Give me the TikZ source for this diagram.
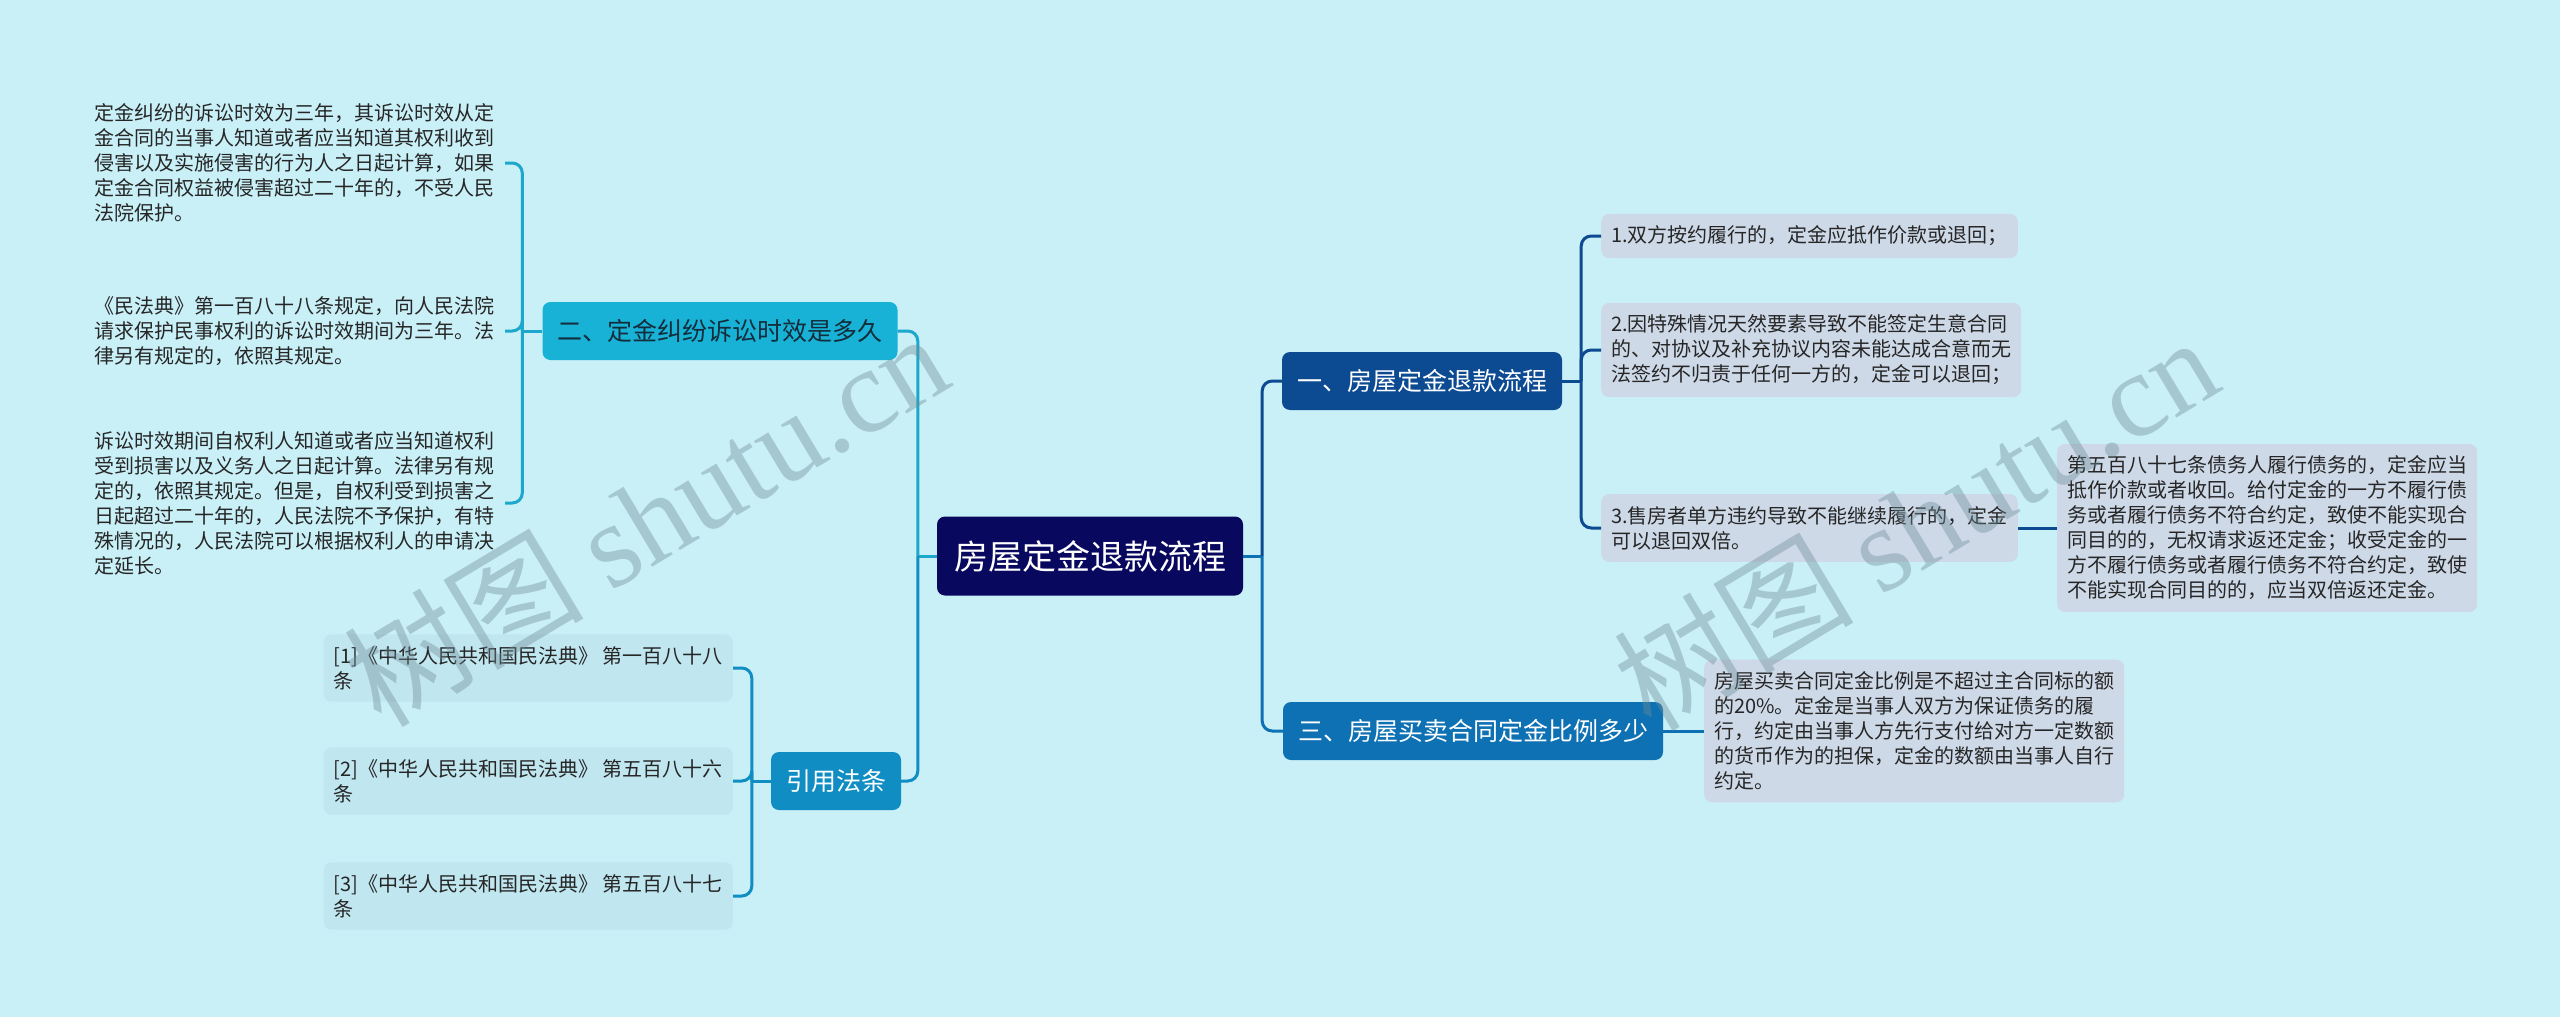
\documentclass[tikz,border=0pt]{standalone}
\usepackage{fontspec}
\setmainfont{Noto Sans CJK SC}
\newfontfamily\wmlatin{Liberation Serif}

\definecolor{bgcol}{RGB}{201,239,247}
\definecolor{rootcol}{RGB}{8,8,94}
\definecolor{twocol}{RGB}{24,178,214}
\definecolor{twoline}{RGB}{28,168,204}
\definecolor{refcol}{RGB}{16,142,196}
\definecolor{onecol}{RGB}{12,74,146}
\definecolor{threecol}{RGB}{14,113,179}
\definecolor{leafcol}{RGB}{206,217,232}
\definecolor{refleaf}{RGB}{192,230,240}
\definecolor{wmcol}{RGB}{110,140,150}

\begin{document}
\begin{tikzpicture}[x=1pt,y=-1pt,
    topic/.style={rounded corners=8pt, inner xsep=15pt, inner ysep=0pt,
        minimum height=58pt, font=\fontsize{25}{30}\selectfont},
    leaf/.style={align=left, inner xsep=10pt, inner ysep=12pt,
        rounded corners=8pt, text=black!85, font=\fontsize{20}{25}\selectfont},
    link/.style={line width=3pt, rounded corners=10pt},
    wm/.style={text=wmcol, opacity=0.4, rotate=31,
        font=\fontsize{120}{120}\selectfont}]

% background
\fill[bgcol] (0,0) rectangle (2560,1017);
\useasboundingbox (0,0) rectangle (2560,1017);

% main topic
\node[topic, fill=rootcol, text=white, minimum height=79pt, inner xsep=17pt,
    font=\fontsize{34}{40}\selectfont] (root) at (1090,556) {房屋定金退款流程};

% branches
\node[topic, fill=twocol, text={rgb,255:red,20;green,45;blue,60}] (b2) at (720,331) {二、定金纠纷诉讼时效是多久};
\node[topic, fill=refcol, text=white] (bref) at (836,781) {引用法条};
\node[topic, fill=onecol, text=white] (b1) at (1422,381) {一、房屋定金退款流程};
\node[topic, fill=threecol, text=white] (b3) at (1473,731) {三、房屋买卖合同定金比例多少};

% left leaves
\node[leaf, anchor=east] (t1) at (505,163) {定金纠纷的诉讼时效为三年，其诉讼时效从定\\金合同的当事人知道或者应当知道其权利收到\\侵害以及实施侵害的行为人之日起计算，如果\\定金合同权益被侵害超过二十年的，不受人民\\法院保护。};
\node[leaf, anchor=east] (t2) at (505,331) {《民法典》第一百八十八条规定，向人民法院\\请求保护民事权利的诉讼时效期间为三年。法\\律另有规定的，依照其规定。};
\node[leaf, anchor=east] (t3) at (505,503) {诉讼时效期间自权利人知道或者应当知道权利\\受到损害以及义务人之日起计算。法律另有规\\定的，依照其规定。但是，自权利受到损害之\\日起超过二十年的，人民法院不予保护，有特\\殊情况的，人民法院可以根据权利人的申请决\\定延长。};

\node[leaf, fill=refleaf, anchor=east] (c1) at (733,668) {[1]《中华人民共和国民法典》 第一百八十八\\条};
\node[leaf, fill=refleaf, anchor=east] (c2) at (733,781) {[2]《中华人民共和国民法典》 第五百八十六\\条};
\node[leaf, fill=refleaf, anchor=east] (c3) at (733,896) {[3]《中华人民共和国民法典》 第五百八十七\\条};

% right leaves
\node[leaf, fill=leafcol, anchor=west] (s1) at (1601,236) {1.双方按约履行的，定金应抵作价款或退回；};
\node[leaf, fill=leafcol, anchor=west] (s2) at (1601,350) {2.因特殊情况天然要素导致不能签定生意合同\\的、对协议及补充协议内容未能达成合意而无\\法签约不归责于任何一方的，定金可以退回；};
\node[leaf, fill=leafcol, anchor=west] (s3) at (1601,528) {3.售房者单方违约导致不能继续履行的，定金\\可以退回双倍。};
\node[leaf, fill=leafcol, anchor=west] (s4) at (2057,528) {第五百八十七条债务人履行债务的，定金应当\\抵作价款或者收回。给付定金的一方不履行债\\务或者履行债务不符合约定，致使不能实现合\\同目的的，无权请求返还定金；收受定金的一\\方不履行债务或者履行债务不符合约定，致使\\不能实现合同目的的，应当双倍返还定金。};
\node[leaf, fill=leafcol, anchor=west] (p1) at (1704,731) {房屋买卖合同定金比例是不超过主合同标的额\\的20\%。定金是当事人双方为保证债务的履\\行，约定由当事人方先行支付给对方一定数额\\的货币作为的担保，定金的数额由当事人自行\\约定。};

% connectors, left
\draw[link, twoline] (root.west) -- ++(-19,0) coordinate (jl);
\draw[link, twoline] (jl) |- (b2.east);
\draw[link, refcol] (jl) |- (bref.east);
\draw[link, twoline] (b2.west) -- ++(-20,0) coordinate (j2);
\foreach \n in {t1,t2,t3}
    \draw[link, twoline] (j2) |- (\n.east);
\draw[link, refcol] (bref.west) -- ++(-19,0) coordinate (jc);
\foreach \n in {c1,c2,c3}
    \draw[link, refcol] (jc) |- (\n.east);

% connectors, right
\draw[link, threecol] (root.east) -- ++(19,0) coordinate (jr);
\draw[link, onecol] (jr) |- (b1.west);
\draw[link, threecol] (jr) |- (b3.west);
\draw[link, onecol] (b1.east) -- ++(19,0) coordinate (j1);
\foreach \n in {s1,s2,s3}
    \draw[link, onecol] (j1) |- (\n.west);
\draw[link, onecol] (s3.east) -- (s4.west);
\draw[link, threecol] (b3.east) -- (p1.west);

% watermark
\node[wm] (wm1) at (645,518) {树图 {\wmlatin shutu.cn}};
\node[wm] (wm2) at (1915,522) {树图 {\wmlatin shutu.cn}};

\end{tikzpicture}
\end{document}
